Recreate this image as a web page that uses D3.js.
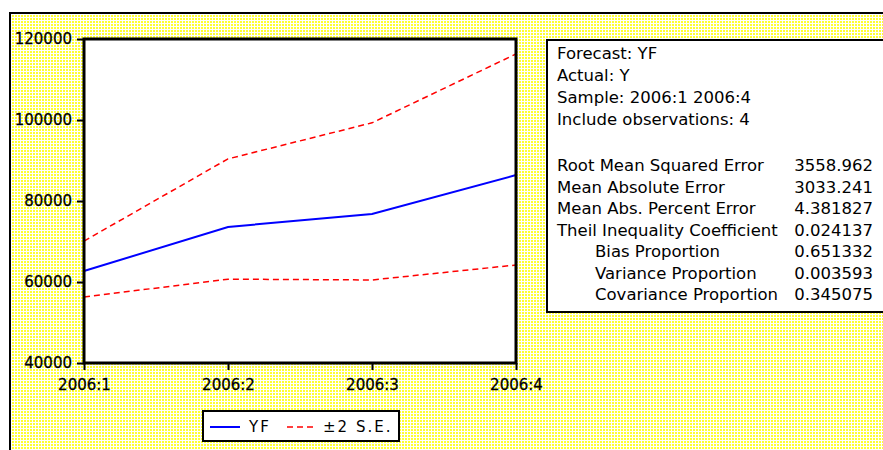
<!DOCTYPE html>
<head>
    <title>Forecast YF</title>
    <meta charset="utf-8">
    <style>
        body { margin: 0; background: #fff; }
        text { font-family: "DejaVu Sans", sans-serif; fill: #000; }
    </style>
</head>
<body>
<div id="graph"></div>
</body>

<script src="https://d3js.org/d3.v7.min.js"></script>
<script>

    // data
    var periods = ["2006:1", "2006:2", "2006:3", "2006:4"];
    var forecast = [62700, 73600, 76800, 86400];
    var upperBand = [70100, 90400, 99300, 116300];
    var lowerBand = [56300, 60700, 60500, 64200];
    var yTicks = [40000, 60000, 80000, 100000, 120000];

    var headerLines = ["Forecast: YF", "Actual: Y", "Sample: 2006:1 2006:4", "Include observations: 4"];
    var statNames = ["Root Mean Squared Error", "Mean Absolute Error", "Mean Abs. Percent Error",
        "Theil Inequality Coefficient", "Bias Proportion", "Variance Proportion", "Covariance Proportion"];
    var statValues = ["3558.962", "3033.241", "4.381827", "0.024137", "0.651332", "0.003593", "0.345075"];
    var statIndent = [false, false, false, false, true, true, true];

    var W = 883, H = 450;
    var plot = {left: 84, right: 516, top: 39, bottom: 363};

    var svg = d3.select("#graph").append("svg")
        .attr("width", W)
        .attr("height", H);

    // pale yellow dithered background
    var pat = svg.append("defs").append("pattern")
        .attr("id", "dither")
        .attr("width", 3).attr("height", 3)
        .attr("patternUnits", "userSpaceOnUse");
    pat.append("rect").attr("width", 3).attr("height", 3).attr("fill", "#fff");
    pat.append("rect").attr("width", 2).attr("height", 2).attr("fill", "#ffff33");

    svg.append("rect")
        .attr("x", 10).attr("y", 13)
        .attr("width", W).attr("height", H)
        .attr("fill", "url(#dither)")
        .attr("stroke", "#000")
        .attr("stroke-width", 2);

    var xScale = d3.scalePoint()
        .domain(periods)
        .range([plot.left, plot.right]);

    var yScale = d3.scaleLinear()
        .domain([40000, 120000])
        .range([plot.bottom, plot.top]);

    // plot frame
    svg.append("rect")
        .attr("x", plot.left).attr("y", plot.top)
        .attr("width", plot.right - plot.left)
        .attr("height", plot.bottom - plot.top)
        .attr("fill", "#fff");

    // axes
    var yAxis = svg.append("g")
        .attr("transform", "translate(" + plot.left + ",0)")
        .call(d3.axisLeft(yScale).tickValues(yTicks).tickFormat(d3.format("d")).tickSize(7).tickPadding(5));

    var xAxis = svg.append("g")
        .attr("transform", "translate(0," + plot.bottom + ")")
        .call(d3.axisBottom(xScale).tickSize(7).tickPadding(9));

    [xAxis, yAxis].forEach(function(ax) {
        ax.select(".domain").remove();
        ax.selectAll("line").attr("stroke", "#000").attr("stroke-width", 2);
        ax.selectAll("text")
            .style("font-family", "'DejaVu Sans', sans-serif")
            .style("font-size", "15px")
            .attr("fill", "#000")
            .attr("stroke", "#000")
            .attr("stroke-width", 0.3);
    });

    var line = d3.line()
        .x(function(d, i) { return xScale(periods[i]); })
        .y(function(d) { return yScale(d); });

    svg.append("path")
        .datum(upperBand)
        .attr("d", line)
        .attr("fill", "none")
        .attr("stroke", "#ff0000")
        .attr("stroke-width", 1.5)
        .attr("stroke-dasharray", "6,4");

    svg.append("path")
        .datum(lowerBand)
        .attr("d", line)
        .attr("fill", "none")
        .attr("stroke", "#ff0000")
        .attr("stroke-width", 1.5)
        .attr("stroke-dasharray", "6,4");

    svg.append("path")
        .datum(forecast)
        .attr("d", line)
        .attr("fill", "none")
        .attr("stroke", "#0000ff")
        .attr("stroke-width", 2);

    svg.append("rect")
        .attr("x", plot.left).attr("y", plot.top)
        .attr("width", plot.right - plot.left)
        .attr("height", plot.bottom - plot.top)
        .attr("fill", "none")
        .attr("stroke", "#000")
        .attr("stroke-width", 3);

    // legend
    var leg = svg.append("g").attr("transform", "translate(203,411)");
    leg.append("rect")
        .attr("width", 196).attr("height", 30)
        .attr("fill", "#fff")
        .attr("stroke", "#000")
        .attr("stroke-width", 2);
    leg.append("line")
        .attr("x1", 7).attr("x2", 37).attr("y1", 16).attr("y2", 16)
        .attr("stroke", "#0000ff").attr("stroke-width", 2);
    leg.append("text")
        .attr("x", 46).attr("y", 21)
        .style("font-size", "15px").style("letter-spacing", "2px")
        .text("YF");
    leg.append("line")
        .attr("x1", 84).attr("x2", 110).attr("y1", 16).attr("y2", 16)
        .attr("stroke", "#ff0000").attr("stroke-width", 1.5)
        .attr("stroke-dasharray", "6,4");
    leg.append("text")
        .attr("x", 120).attr("y", 21)
        .style("font-size", "15px").style("letter-spacing", "2px")
        .text("\u00b12 S.E.");

    // statistics box
    svg.append("rect")
        .attr("x", 547).attr("y", 40)
        .attr("width", 400).attr("height", 272)
        .attr("fill", "#fff")
        .attr("stroke", "#000")
        .attr("stroke-width", 2);

    svg.selectAll(".head")
        .data(headerLines)
        .enter().append("text")
        .attr("class", "head")
        .attr("x", 557)
        .attr("y", function(d, i) { return 59 + i * 22; })
        .style("font-size", "16.5px")
        .text(function(d) { return d; });

    svg.selectAll(".stat")
        .data(statNames)
        .enter().append("text")
        .attr("class", "stat")
        .attr("x", function(d, i) { return statIndent[i] ? 595 : 557; })
        .attr("y", function(d, i) { return 171 + i * 21.5; })
        .style("font-size", "16.5px")
        .text(function(d) { return d; });

    svg.selectAll(".val")
        .data(statValues)
        .enter().append("text")
        .attr("class", "val")
        .attr("x", 873)
        .attr("y", function(d, i) { return 171 + i * 21.5; })
        .attr("text-anchor", "end")
        .style("font-size", "16.5px")
        .text(function(d) { return d; });

</script>
